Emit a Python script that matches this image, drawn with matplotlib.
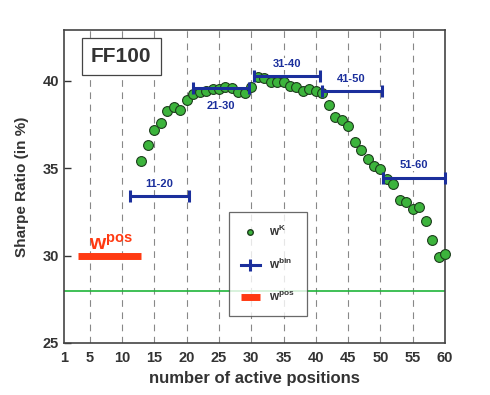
import matplotlib
matplotlib.use('Agg')
import matplotlib.pyplot as plt
import numpy as np
from matplotlib.lines import Line2D

plt.rcParams['font.family'] = ['Liberation Sans', 'DejaVu Sans']
plt.rcParams['font.weight'] = 'bold'

# Sharpe ratio for each number of active positions
positions = list(range(13, 61))
sharpe = [35.4, 36.3, 37.2, 37.6, 38.25, 38.5, 38.35, 38.9,
          39.25, 39.35, 39.4, 39.5, 39.55, 39.65, 39.6, 39.35, 39.3, 39.65,
          40.2, 40.15, 39.95, 39.9, 39.9, 39.7, 39.65, 39.4, 39.5, 39.4,
          39.3, 38.6, 37.9, 37.75, 37.4, 36.5, 36.05, 35.55, 35.15, 34.95,
          34.4, 34.1, 33.15, 33.05, 32.65, 32.75, 31.95, 30.9, 29.9, 30.1]

# binned averages
bin_labels = ['11-20', '21-30', '31-40', '41-50', '51-60']
bin_start = [11.2, 21.0, 30.4, 40.9, 50.4]
bin_end = [20.3, 29.7, 40.7, 50.2, 60.0]
bin_value = [33.4, 39.6, 40.25, 39.4, 34.45]
bin_label_above = [True, False, True, True, True]

wpos_start, wpos_end, wpos_value = 3.2, 12.9, 30.0
benchmark = 28.0

xticks = [1, 5, 10, 15, 20, 25, 30, 35, 40, 45, 50, 55, 60]
yticks = [25, 30, 35, 40]

green = '#3cb43c'
blue = '#1b2f9c'
red = '#ff3a12'

fig = plt.figure(figsize=(4.9, 3.95), dpi=100)
ax = fig.add_axes([64 / 490, 52 / 395, 381 / 490, 313 / 395])

for x in xticks[1:-1]:
    ax.axvline(x, color='#888888', lw=0.8, ls=(0, (6, 5)), zorder=0)

ax.axhline(benchmark, color='#1fb53a', lw=1.2, zorder=1)

ax.plot([wpos_start, wpos_end], [wpos_value, wpos_value], color=red, lw=5,
        solid_capstyle='butt', zorder=2)
ax.text(wpos_start + 1.6, wpos_value + 0.35, r'$\mathregular{w^{pos}}$', color=red,
        fontsize=15, fontweight='bold', ha='left', va='baseline')

ax.scatter(positions, sharpe, s=50, facecolor=green, edgecolor='#1d3d1d',
           linewidth=0.8, zorder=4, clip_on=False)

for lab, a, b, v, above in zip(bin_labels, bin_start, bin_end, bin_value, bin_label_above):
    c = (a + b) / 2
    ax.errorbar(c, v, xerr=(b - a) / 2, fmt='none', ecolor=blue, elinewidth=2.2,
                capsize=4.5, capthick=2.2, zorder=5, clip_on=False)
    ax.annotate(lab, (c, v), xytext=(0, 9 if above else -13), textcoords='offset points',
                ha='center', va='center', color=blue, fontsize=8, fontweight='bold',
                bbox=dict(boxstyle='square,pad=0.1', facecolor='white', edgecolor='none'),
                zorder=3)

ax.set_xlim(1, 60)
ax.set_ylim(25, 42.9)
ax.set_xticks(xticks)
ax.set_yticks(yticks)
ax.tick_params(axis='both', direction='in', labelsize=10.5, length=5, width=1, colors='#333333')
ax.tick_params(axis='x', length=0, pad=6)
for lbl in ax.get_xticklabels() + ax.get_yticklabels():
    lbl.set_fontweight('bold')
for s in ax.spines.values():
    s.set_color('#444444')
    s.set_linewidth(1.2)

ax.set_xlabel('number of active positions', fontsize=12, fontweight='bold', color='#333333')
ax.set_ylabel('Sharpe Ratio (in %)', fontsize=11, fontweight='bold', color='#333333', labelpad=10)

ax.text(0.15, 0.915, 'FF100', transform=ax.transAxes, fontsize=15, fontweight='bold',
        color='#333333', ha='center', va='center',
        bbox=dict(boxstyle='square,pad=0.45', facecolor='white', edgecolor='#444444', lw=0.9))

handles = [Line2D([], [], ls='none', marker='o', markersize=4, markerfacecolor=green,
                  markeredgecolor='#1d3d1d'),
           Line2D([], [], color=blue, lw=2.2, marker='|', markersize=8, markeredgewidth=2.2),
           Line2D([], [], color=red, lw=5, solid_capstyle='butt')]
labels = [r'$\mathregular{w^{K}}$', r'$\mathregular{w^{bin}}$', r'$\mathregular{w^{pos}}$']
leg = ax.legend(handles, labels, loc='upper left', bbox_to_anchor=(0.433, 0.419),
                borderaxespad=0, frameon=True, fancybox=False, edgecolor='#444444',
                fontsize=8.5, labelspacing=1.55, handlelength=1.6, borderpad=1.0,
                handletextpad=0.8)
leg.get_frame().set_linewidth(0.9)
for t in leg.get_texts():
    t.set_color('#333333')

fig.savefig('out.png', dpi=100, facecolor='white')
